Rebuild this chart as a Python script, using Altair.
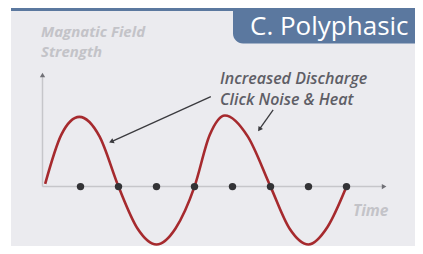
import altair as alt
import pandas as pd

# ---- data ----
time_pts = [0.07, 0.5, 0.97, 1.5, 2.0, 2.5, 3.0, 3.5, 4.0, 4.4, 4.8, 5.4, 6.0, 6.5, 7.0, 7.5, 8.0]
field_pts = [0.04, 0.75, 1.0, 0.72, 0.0, -0.6, -0.83, -0.6, 0.0, 0.74, 1.02, 0.72, 0.0, -0.6, -0.83, -0.58, 0.0]
click_times = [1, 2, 3, 4, 5, 6, 7, 8]
click_vals = [0, 0, 0, 0, 0, 0, 0, 0]

# annotation arrows: (start t, start v) -> (head t, head v)
arrow_start_t = [4.43, 6.07]
arrow_start_v = [1.29, 1.10]
arrow_head_t = [1.83, 5.72]
arrow_head_v = [0.65, 0.83]
arrow_angle = [245.5, 214.7]

title_text = "C. Polyphasic"
ylabel_lines = ["Magnatic Field", "Strength"]
note_lines = ["Increased Discharge", "Click Noise & Heat"]
xlabel = "Time"

BLUE = "#5b789f"
PANEL = "#ebebef"
RED = "#a62a2e"

W, H = 407, 238


def px(x):
    return x - 8


def py(y):
    return y - 8


# x: t=0 at chart x 34.5, 38 px per unit; y: v=0 at chart y 178.6, 69.7 px per unit
xs = alt.Scale(domain=[-34.5 / 38, (W - 34.5) / 38], nice=False, zero=False)
ys = alt.Scale(domain=[(178.6 - H) / 69.7, 178.6 / 69.7], nice=False, zero=False)

one = alt.Data(values=[{}])

panel = alt.Chart(one).mark_rect(color=PANEL).encode(
    x=alt.value(px(11)), x2=alt.value(W), y=alt.value(0), y2=alt.value(H))
bar = alt.Chart(one).mark_rect(color=BLUE).encode(
    x=alt.value(px(11)), x2=alt.value(W), y=alt.value(0), y2=alt.value(py(11)))
tbox = alt.Chart(one).mark_rect(color=BLUE, cornerRadiusBottomLeft=10).encode(
    x=alt.value(px(233)), x2=alt.value(W), y=alt.value(0), y2=alt.value(py(43.5)))
title = alt.Chart(one).mark_text(
    text=title_text, font="Open Sans", fontSize=26, color="white",
    align="left", baseline="alphabetic").encode(x=alt.value(px(250)), y=alt.value(py(34.5)))

LBL = "#c3c3c8"
ylab = alt.Chart(pd.DataFrame({"t": ylabel_lines, "i": [0, 1]})).mark_text(
    font="Open Sans", fontSize=15, fontStyle="italic", fontWeight=700, color=LBL,
    align="left", baseline="alphabetic").encode(
    text="t:N", x=alt.value(px(41)),
    y=alt.Y("i:Q", scale=alt.Scale(domain=[0, 1], range=[py(36.5), py(56.5)]), axis=None))

notes = alt.Chart(pd.DataFrame({"t": note_lines, "i": [0, 1]})).mark_text(
    font="Open Sans", fontSize=16, fontStyle="italic", fontWeight=600, color="#5e5e66",
    align="left", baseline="alphabetic").encode(
    text="t:N", x=alt.value(px(220)),
    y=alt.Y("i:Q", scale=alt.Scale(domain=[0, 1], range=[py(83.5), py(104.5)]), axis=None))

xlab = alt.Chart(one).mark_text(
    text=xlabel, font="Open Sans", fontSize=15.5, fontStyle="italic", fontWeight=700,
    color=LBL, align="left", baseline="alphabetic").encode(
    x=alt.value(px(353)), y=alt.value(py(215.5)))

axes_df = pd.DataFrame({"x": [0, 0], "x2": [8.95, 0], "y": [0, 0], "y2": [0, 1.58]})
axes = alt.Chart(axes_df).mark_rule(color="#c6c6ca", strokeWidth=1.5).encode(
    x=alt.X("x:Q", scale=xs, axis=None), x2="x2:Q",
    y=alt.Y("y:Q", scale=ys, axis=None), y2="y2:Q")
heads_df = pd.DataFrame({"x": [8.99, 0], "y": [0, 1.60], "s": ["triangle-right", "triangle-up"]})
heads = alt.Chart(heads_df).mark_point(filled=True, color="#707076", size=28, opacity=1).encode(
    x=alt.X("x:Q", scale=xs, axis=None), y=alt.Y("y:Q", scale=ys, axis=None),
    shape=alt.Shape("s:N", scale=None))

wave_df = pd.DataFrame({"t": time_pts, "v": field_pts})
wave = alt.Chart(wave_df).mark_line(color=RED, strokeWidth=2.6, interpolate="monotone").encode(
    x=alt.X("t:Q", scale=xs, axis=None), y=alt.Y("v:Q", scale=ys, axis=None), order="t:Q")

dots_df = pd.DataFrame({"t": click_times, "v": click_vals})
dots = alt.Chart(dots_df).mark_circle(color="#333336", size=55, opacity=1).encode(
    x=alt.X("t:Q", scale=xs, axis=None), y=alt.Y("v:Q", scale=ys, axis=None))

arr_df = pd.DataFrame({"x": arrow_start_t, "y": arrow_start_v, "x2": arrow_head_t,
                       "y2": arrow_head_v, "a": arrow_angle})
arr_lines = alt.Chart(arr_df).mark_rule(color="#3a3a3e", strokeWidth=1.3).encode(
    x=alt.X("x:Q", scale=xs, axis=None), y=alt.Y("y:Q", scale=ys, axis=None),
    x2="x2:Q", y2="y2:Q")
arr_heads = alt.Chart(arr_df).mark_point(shape="triangle", filled=True, color="#3a3a3e",
                                         size=30, opacity=1).encode(
    x=alt.X("x2:Q", scale=xs, axis=None), y=alt.Y("y2:Q", scale=ys, axis=None),
    angle=alt.Angle("a:Q", scale=None))

chart = alt.layer(panel, bar, tbox, title, ylab, notes, xlab, axes, heads,
                  wave, dots, arr_lines, arr_heads).resolve_scale(y="independent").properties(
    width=W, height=H, autosize=alt.AutoSizeParams(type="none"), padding=0,
    background="white"
).configure_view(stroke=None)

chart.save("out.html", embed_options={"renderer": "svg", "actions": False})
